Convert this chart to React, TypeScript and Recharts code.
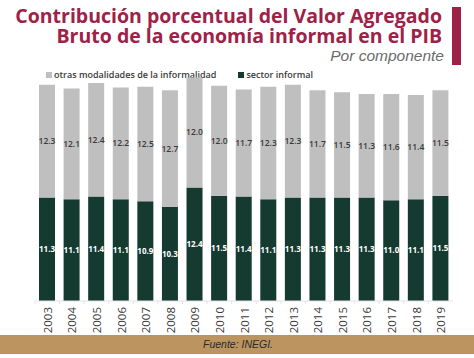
import { BarChart, Bar, XAxis, YAxis, LabelList } from 'recharts';

const years = ['2003', '2004', '2005', '2006', '2007', '2008', '2009', '2010', '2011', '2012', '2013', '2014', '2015', '2016', '2017', '2018', '2019'];
const sectorInformal = [11.3, 11.1, 11.4, 11.1, 10.9, 10.3, 12.4, 11.5, 11.4, 11.1, 11.3, 11.3, 11.3, 11.3, 11.0, 11.1, 11.5];
const otrasModalidades = [12.3, 12.1, 12.4, 12.2, 12.5, 12.7, 12.0, 12.0, 11.7, 12.3, 12.3, 11.7, 11.5, 11.3, 11.6, 11.4, 11.5];

const DARK = '#153a30';
const GRAY = '#bfbfbf';
const MAROON = '#9e2148';
const FONT = '"Open Sans", sans-serif';

const chartData = years.map((y, i) => ({
  year: y,
  sector: sectorInformal[i],
  otras: otrasModalidades[i],
}));

const YearTick = (props: any) => {
  const { x, y, payload } = props;
  const ty = y - 2;
  return (
    <g>
      <line x1={x - 12.3} x2={x - 12.3} y1={y - 8} y2={y - 5} stroke="#e3e3e3" />
      <text
        x={x}
        y={ty}
        transform={`rotate(-90 ${x} ${ty})`}
        textAnchor="end"
        dominantBaseline="central"
        fontSize={11.5}
        fill="#3a3a3a"
        fontFamily={FONT}
      >
        {payload.value}
      </text>
    </g>
  );
};

export default function App() {
  return (
    <div style={{ position: 'absolute', left: 0, top: 0, width: 474, height: 358, background: '#fff', fontFamily: FONT, overflow: 'hidden' }}>
      <div style={{ position: 'absolute', right: 32, top: 6, textAlign: 'right', color: MAROON, fontWeight: 700, fontSize: 19.5, lineHeight: '20px', whiteSpace: 'nowrap' }}>
        Contribución porcentual del Valor Agregado
        <br />
        Bruto de la economía informal en el PIB
      </div>
      <div style={{ position: 'absolute', right: 30, top: 48, color: '#6b6b6b', fontStyle: 'italic', fontSize: 15.5, lineHeight: '16px', fontFamily: '"Liberation Sans", Arial, sans-serif', whiteSpace: 'nowrap' }}>
        Por componente
      </div>
      <div style={{ position: 'absolute', left: 452, top: 7, width: 9, height: 58, background: MAROON }} />

      <div style={{ position: 'absolute', left: 46, top: 69, fontSize: 9, lineHeight: '12px', fontWeight: 600, color: '#3a3a3a', whiteSpace: 'nowrap', display: 'flex', alignItems: 'center' }}>
        <span style={{ display: 'inline-block', width: 6, height: 6, background: GRAY, marginRight: 2 }} />
        otras modalidades de la informalidad
        <span style={{ display: 'inline-block', width: 6, height: 6, background: DARK, marginLeft: 22, marginRight: 2 }} />
        sector informal
      </div>

      <BarChart
        width={474}
        height={335}
        data={chartData}
        margin={{ top: 72, right: 21, left: 35, bottom: 0 }}
        barSize={16}
      >
        <XAxis
          dataKey="year"
          interval={0}
          height={34}
          tick={<YearTick />}
          tickLine={false}
          axisLine={{ stroke: '#e3e3e3' }}
        />
        <YAxis hide domain={[0, 25]} />
        <Bar dataKey="sector" stackId="a" fill={DARK} isAnimationActive={false}>
          <LabelList
            dataKey="sector"
            position="center"
            formatter={(v: any) => Number(v).toFixed(1)}
            fill="#ffffff"
            fontSize={8}
            fontWeight={700}
            fontFamily={FONT}
          />
        </Bar>
        <Bar dataKey="otras" stackId="a" fill={GRAY} isAnimationActive={false}>
          <LabelList
            dataKey="otras"
            position="center"
            formatter={(v: any) => Number(v).toFixed(1)}
            fill="#3a3a3a"
            fontSize={8.5}
            fontWeight={600}
            fontFamily={FONT}
          />
        </Bar>
      </BarChart>

      <div style={{ position: 'absolute', left: 0, top: 335, width: 474, height: 19, background: '#bb945f' }}>
        <span style={{ position: 'absolute', left: 203, top: 3, fontSize: 10.5, fontStyle: 'italic', color: '#2a2a2a', fontFamily: '"Liberation Sans", Arial, sans-serif' }}>
          Fuente: INEGI.
        </span>
      </div>
    </div>
  );
}
